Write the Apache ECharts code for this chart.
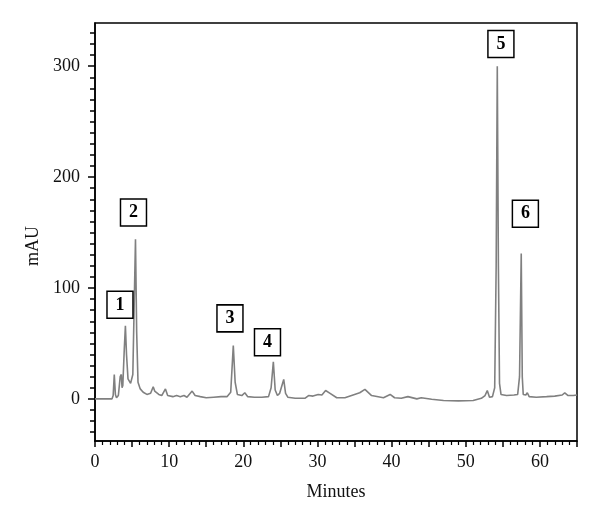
<!DOCTYPE html>
<html>
<head>
<meta charset="utf-8">
<script src="https://cdn.jsdelivr.net/npm/echarts@6/dist/echarts.min.js"></script>
<style>
html,body{margin:0;padding:0;background:#fff;}
#chart{width:600px;height:521px;}
</style>
</head>
<body>
<div id="chart"></div>
<script>
// Retention time (minutes) and absorbance (mAU)
const times = [0, 2.3, 2.45, 2.6, 2.75, 2.9, 3.15, 3.4, 3.55, 3.65, 3.75, 3.95, 4.1, 4.25, 4.45, 4.8, 5.1, 5.3, 5.46, 5.62, 5.8, 6.1, 6.5, 7.0, 7.5, 7.85, 8.05, 8.3, 8.6, 9.0, 9.5, 9.8, 10.5, 11.0, 11.5, 12.0, 12.4, 13.1, 13.5, 14.2, 15.0, 16.0, 17.0, 17.8, 18.3, 18.65, 18.9, 19.2, 19.8, 20.2, 20.6, 21.5, 22.5, 23.4, 23.75, 24.05, 24.3, 24.6, 24.9, 25.1, 25.45, 25.7, 26.0, 27.0, 28.3, 28.8, 29.0, 29.4, 30.1, 30.6, 31.1, 31.7, 32.6, 33.7, 35.0, 35.7, 36.4, 37.3, 38.9, 39.8, 40.4, 41.3, 42.2, 43.4, 44.0, 45.4, 47.0, 49.0, 51.0, 52.1, 52.6, 52.9, 53.2, 53.6, 53.9, 54.1, 54.25, 54.4, 54.55, 54.75, 55.5, 56.5, 57.0, 57.25, 57.48, 57.62, 57.75, 58.1, 58.3, 58.55, 59.5, 60.9, 62.0, 63.0, 63.35, 63.8, 64.5, 65];
const mAU = [0, 0, 3, 22, 4, 1, 3, 20, 22, 10, 12, 45, 66, 40, 18, 14, 22, 90, 144, 60, 15, 9, 6, 4, 5, 11, 7, 8, 4, 3, 9, 3, 2, 3, 2, 3, 1.5, 7, 3, 2, 1, 1.5, 2, 2, 6, 48, 15, 4, 3, 5.5, 2, 1.5, 1.5, 2, 10, 33.5, 8, 3, 5, 3.5, 17.5, 5, 1.5, 0.5, 0.5, 3, 4.5, 2.5, 4, 3.5, 7.5, 5, 1, 1, 4, 5.5, 8.5, 3, 1, 4, 1, 0.5, 2, 0, 1, -0.3, -1.5, -1.8, -1.5, 0.5, 3, 7.5, 1.5, 2, 10, 120, 300, 120, 14, 4, 3, 3.5, 4, 20, 131, 20, 4, 3.5, 5.5, 2, 1.5, 2, 2.5, 3.5, 5.5, 3, 3, 3.5];

// Peak annotations (label, time, mAU position of the label box)
const peakLabels = ['1', '2', '3', '4', '5', '6'];
const peakLabelTimes = [3.37, 5.19, 18.2, 23.26, 54.74, 58.04];
const peakLabelLevels = [84.8, 168, 72.6, 51, 320, 167];

// Tick values
const yLabelValues = [0, 100, 200, 300];
const yMinorValues = [-30, -20, -10, 0, 10, 20, 30, 40, 50, 60, 70, 80, 90, 100, 110, 120, 130, 140, 150, 160, 170, 180, 190, 200, 210, 220, 230, 240, 250, 260, 270, 280, 290, 300, 310, 320, 330];

const font = '"Liberation Serif", "DejaVu Serif", serif';

const chart = echarts.init(document.getElementById('chart'), null, {renderer: 'canvas'});
const seriesData = times.map((t, i) => [t, mAU[i]]);
const markData = peakLabels.map((n, i) => ({name: n, coord: [peakLabelTimes[i], peakLabelLevels[i]]}));

chart.setOption({
  animation: false,
  backgroundColor: '#fff',
  grid: {left: 95, right: 23, top: 23, bottom: 80, show: true, borderColor: '#000', borderWidth: 1.5, backgroundColor: 'transparent'},
  xAxis: {
    type: 'value', min: 0, max: 65, interval: 5,
    name: 'Minutes', nameLocation: 'middle', nameGap: 42,
    nameTextStyle: {fontFamily: font, fontSize: 18, color: '#111'},
    axisLine: {show: true, onZero: false, lineStyle: {color: '#000', width: 1.5}},
    axisTick: {show: true, length: 6, lineStyle: {color: '#000', width: 1.5}},
    minorTick: {show: true, splitNumber: 5, length: 4, lineStyle: {color: '#000', width: 1.2}},
    axisLabel: {fontFamily: font, fontSize: 18, color: '#111', margin: 12,
      formatter: v => (v % 10 === 0 ? String(v) : '')},
    splitLine: {show: false}
  },
  yAxis: [{
    type: 'value', min: -38, max: 339, position: 'left',
    name: 'mAU', nameLocation: 'middle', nameGap: 52,
    nameTextStyle: {fontFamily: font, fontSize: 18, color: '#111', padding: [0, 28, 0, 0]},
    axisLine: {show: true, onZero: false, lineStyle: {color: '#000', width: 1.5}},
    axisTick: {show: true, length: 7, customValues: yLabelValues, lineStyle: {color: '#000', width: 1.5}},
    axisLabel: {fontFamily: font, fontSize: 18, color: '#111', margin: 15, customValues: yLabelValues},
    splitLine: {show: false}
  }, {
    type: 'value', min: -38, max: 339, position: 'left',
    axisLine: {show: false, onZero: false},
    axisTick: {show: true, length: 5, customValues: yMinorValues, lineStyle: {color: '#000', width: 1.5}},
    axisLabel: {show: false},
    splitLine: {show: false}
  }],
  series: [{
    type: 'line',
    data: seriesData,
    yAxisIndex: 0,
    showSymbol: false,
    symbol: 'none',
    lineStyle: {color: '#808080', width: 1.6},
    markPoint: {
      symbol: 'rect',
      symbolSize: [26, 27],
      itemStyle: {color: '#fff', borderColor: '#000', borderWidth: 1.5},
      label: {show: true, position: 'inside', formatter: '{b}', fontFamily: font, fontSize: 18, fontWeight: 'bold', color: '#000'},
      data: markData
    }
  }]
});
</script>
</body>
</html>
